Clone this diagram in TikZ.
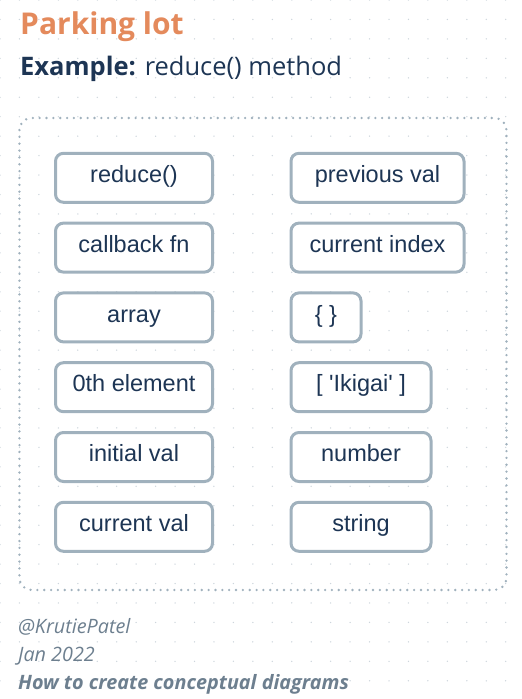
\documentclass[tikz,border=0pt]{standalone}
\usepackage{fontspec}
\setmainfont{Liberation Sans}
\newfontfamily\headfont{Open Sans}
\usetikzlibrary{positioning}
\definecolor{titleorange}{HTML}{E48A5C}
\definecolor{navy}{HTML}{1D3554}
\definecolor{boxline}{HTML}{A0B1BD}
\definecolor{footgrey}{HTML}{6D7F8F}
\definecolor{dotgrey}{HTML}{CDD5DC}

\begin{document}
\begin{tikzpicture}[x=1pt,y=1pt,
		box/.style={draw=boxline,line width=3pt,rounded corners=8pt,fill=white,text=navy,font=\fontsize{23.5}{28}\selectfont,minimum height=49pt,text height=16.5pt,text depth=7pt,inner sep=0pt,outer sep=0pt},
		leftbox/.style={box,minimum width=157pt},
		widebox/.style={box,minimum width=173pt},
		midbox/.style={box,minimum width=140pt},
		tinybox/.style={box,minimum width=70pt},
		head/.style={anchor=base west,inner sep=0pt,font=\headfont},
		foot/.style={anchor=base west,inner sep=0pt,text=footgrey},
		node distance=20.8pt and 78.5pt]
		\useasboundingbox (0,0) rectangle (522,-699);
		\foreach \i in {0,...,26}
			\foreach \j in {0,...,35}
				\fill[dotgrey] (\i*19.45,-\j*19.45) circle (0.75pt);

		\node[head,text=titleorange,font=\headfont\bfseries\fontsize{30}{36}\selectfont]	(title)		at (20,-34)	{Parking lot};
		\node[head,text=navy,font=\headfont\fontsize{25.5}{30}\selectfont]				(example)	at (20,-75)	{\textbf{Example:} reduce() method};

		\draw[boxline,line width=2.6pt,line cap=round,dash pattern=on 0pt off 6.85pt,rounded corners=12pt] (19.45,-118) rectangle (506.5,-590);

		\node[leftbox]						(reduce)	at (134,-177.8)	{reduce()};
		\node[leftbox,below=of reduce]		(callback)		{callback fn};
		\node[leftbox,below=of callback]	(array)			{array};
		\node[leftbox,below=of array]		(zeroth)		{0th element};
		\node[leftbox,below=of zeroth]		(initval)		{initial val};
		\node[leftbox,below=of initval]		(curval)		{current val};

		\node[widebox,right=of reduce]		(prevval)		{previous val};
		\node[widebox,right=of callback]	(curindex)		{current index};
		\node[tinybox,right=of array]		(braces)		{\{ \}};
		\node[midbox,right=of zeroth]		(ikigai)		{[ \textquotesingle Ikigai\textquotesingle\ ]};
		\node[midbox,right=of initval]		(number)		{number};
		\node[midbox,right=of curval]		(string)		{string};

		\node[foot,font=\headfont\itshape\fontsize{19.8}{24}\selectfont]				(handle)	at (18,-633.3)	{@KrutiePatel};
		\node[foot,font=\headfont\itshape\fontsize{19.8}{24}\selectfont]				(date)		at (18,-661.7)	{Jan 2022};
		\node[foot,font=\headfont\bfseries\itshape\fontsize{19.8}{24}\selectfont]		(series)	at (18,-689.3)	{How to create conceptual diagrams};
	\end{tikzpicture}
\end{document}
